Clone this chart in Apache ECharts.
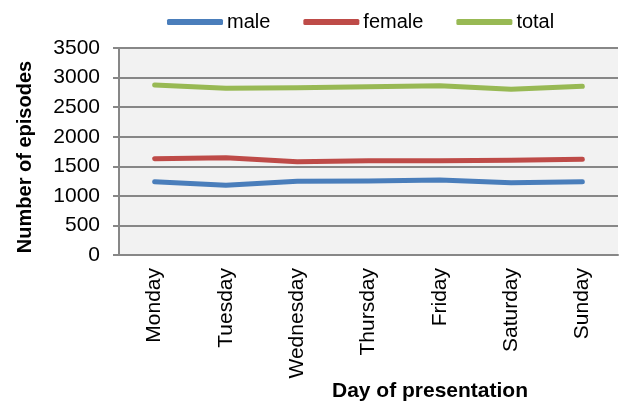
<!DOCTYPE html>
<html><head><meta charset="utf-8">
<script src="https://cdn.jsdelivr.net/npm/echarts@6/dist/echarts.min.js"></script>
<style>html,body{margin:0;padding:0;background:#fff}#c{width:635px;height:405px}</style>
</head><body><div id="c"></div>
<script>
const categories = ['Monday','Tuesday','Wednesday','Thursday','Friday','Saturday','Sunday'];
const male   = [1240, 1178, 1246, 1251, 1268, 1223, 1240];
const female = [1629, 1646, 1578, 1595, 1595, 1601, 1618];
const total  = [2875, 2818, 2829, 2846, 2863, 2801, 2852];
const yTicks = [0, 500, 1000, 1500, 2000, 2500, 3000, 3500];

const font = '"Liberation Sans", Arial, sans-serif';
const chart = echarts.init(document.getElementById('c'), null, {renderer:'canvas'});
function line(name, data, color){
  return {name, type:'line', data, symbol:'none', smooth:false,
    lineStyle:{color, width:5, cap:'round', join:'round'}, itemStyle:{color}};
}
chart.setOption({
  animation:false,
  backgroundColor:'#ffffff',
  textStyle:{fontFamily:font},
  legend:{top:7, left:162, itemWidth:56, itemHeight:6, itemGap:33,
    icon:'roundRect',
    textStyle:{fontSize:20, color:'#000', fontFamily:font, padding:[0,0,0,-1]},
    data:['male','female','total']},
  grid:{left:119, right:17, top:48, bottom:150, show:true, backgroundColor:'#f2f2f2', borderWidth:0},
  xAxis:{type:'category', data:categories, boundaryGap:true,
    axisLine:{show:true, lineStyle:{color:'#878787', width:2}},
    axisTick:{show:false},
    axisLabel:{rotate:90, margin:13, fontSize:21, color:'#000', fontFamily:font},
    splitLine:{show:false}},
  yAxis:{type:'value', min:yTicks[0], max:yTicks[yTicks.length-1], interval:500,
    axisLine:{show:true, lineStyle:{color:'#878787', width:2}},
    axisTick:{show:true, inside:false, length:6, lineStyle:{color:'#878787', width:2}},
    axisLabel:{margin:19, fontSize:21, color:'#000', fontFamily:font, formatter: v => String(v)},
    splitLine:{show:true, lineStyle:{color:'#878787', width:2}}},
  graphic:[
    {type:'text', x:25, y:157, rotation:Math.PI/2,
      style:{text:'Number of episodes', font:'bold 20px '+font, fill:'#000', textAlign:'center', textVerticalAlign:'middle'}},
    {type:'text', x:430, y:391,
      style:{text:'Day of presentation', font:'bold 21px '+font, fill:'#000', textAlign:'center', textVerticalAlign:'middle'}}
  ],
  series:[line('male', male, '#4a7ebb'), line('female', female, '#be4b48'), line('total', total, '#98b954')]
});
</script></body></html>
